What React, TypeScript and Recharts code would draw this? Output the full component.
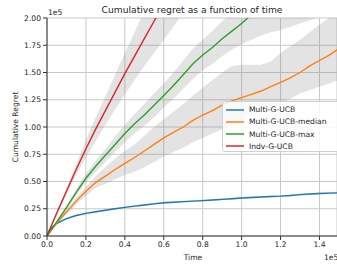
import React from 'react';
import { ComposedChart, Line, Area, XAxis, YAxis, CartesianGrid, Customized } from 'recharts';

const times = [0, 0.0125, 0.025, 0.05, 0.1, 0.15, 0.2, 0.25, 0.3, 0.35, 0.4, 0.45, 0.5, 0.55, 0.6, 0.65, 0.7, 0.75, 0.8, 0.85, 0.9, 0.95, 1.0, 1.05, 1.1, 1.15, 1.2, 1.25, 1.3, 1.35, 1.4, 1.45, 1.5];

const multiGUCB = [0, 0.055, 0.08, 0.115, 0.16, 0.188, 0.208, 0.222, 0.236, 0.25, 0.263, 0.274, 0.284, 0.295, 0.305, 0.31, 0.315, 0.32, 0.325, 0.33, 0.336, 0.342, 0.349, 0.353, 0.358, 0.362, 0.366, 0.372, 0.38, 0.385, 0.39, 0.393, 0.396];
const multiGUCBLow = [0, 0.05, 0.074, 0.108, 0.152, 0.18, 0.2, 0.214, 0.228, 0.242, 0.255, 0.265, 0.275, 0.286, 0.296, 0.301, 0.306, 0.311, 0.316, 0.321, 0.327, 0.333, 0.34, 0.344, 0.349, 0.353, 0.357, 0.363, 0.371, 0.376, 0.381, 0.384, 0.387];
const multiGUCBHigh = [0, 0.06, 0.086, 0.122, 0.168, 0.196, 0.216, 0.23, 0.244, 0.258, 0.271, 0.283, 0.293, 0.304, 0.314, 0.319, 0.324, 0.329, 0.334, 0.339, 0.345, 0.351, 0.358, 0.362, 0.367, 0.371, 0.375, 0.381, 0.389, 0.394, 0.399, 0.402, 0.405];

const median = [0, 0.03, 0.06, 0.12, 0.22, 0.32, 0.41, 0.49, 0.55, 0.61, 0.667, 0.72, 0.78, 0.84, 0.9, 0.95, 1.0, 1.06, 1.11, 1.15, 1.2, 1.24, 1.27, 1.3, 1.33, 1.37, 1.41, 1.45, 1.5, 1.56, 1.61, 1.66, 1.72];
const medianLow = [0, 0.026, 0.054, 0.11, 0.2, 0.29, 0.37, 0.44, 0.48, 0.52, 0.56, 0.59, 0.63, 0.68, 0.73, 0.77, 0.81, 0.86, 0.9, 0.94, 0.98, 1.02, 1.06, 1.1, 1.14, 1.18, 1.22, 1.26, 1.31, 1.34, 1.37, 1.4, 1.43];
const medianHigh = [0, 0.034, 0.066, 0.13, 0.24, 0.35, 0.45, 0.55, 0.63, 0.71, 0.78, 0.84, 0.92, 1.0, 1.07, 1.14, 1.21, 1.29, 1.36, 1.43, 1.5, 1.56, 1.57, 1.57, 1.57, 1.6, 1.68, 1.74, 1.8, 1.87, 1.94, 2.0, 2.06];

const maxSeries = [0, 0.033, 0.065, 0.13, 0.26, 0.4, 0.53, 0.64, 0.74, 0.84, 0.94, 1.03, 1.11, 1.2, 1.29, 1.38, 1.48, 1.58, 1.66, 1.73, 1.81, 1.88, 1.95, 2.03, 2.08, 2.14, 2.2, 2.26, 2.32, 2.38, 2.44, 2.5, 2.55];
const maxLow = [0, 0.03, 0.06, 0.12, 0.24, 0.37, 0.49, 0.59, 0.68, 0.77, 0.86, 0.94, 1.01, 1.09, 1.18, 1.26, 1.35, 1.44, 1.52, 1.58, 1.65, 1.71, 1.76, 1.8, 1.84, 1.87, 1.89, 1.92, 1.95, 1.98, 2.01, 2.05, 2.08];
const maxHigh = [0, 0.036, 0.07, 0.14, 0.28, 0.43, 0.57, 0.69, 0.8, 0.91, 1.02, 1.12, 1.21, 1.31, 1.4, 1.5, 1.61, 1.72, 1.8, 1.88, 1.97, 2.05, 2.14, 2.26, 2.32, 2.4, 2.5, 2.6, 2.7, 2.8, 2.9, 3.0, 3.1];

const indv = [0, 0.053, 0.105, 0.21, 0.41, 0.61, 0.8, 0.98, 1.15, 1.32, 1.49, 1.65, 1.81, 1.97, 2.13, 2.29, 2.45];
const indvHalf = [0, 0.003, 0.005, 0.01, 0.03, 0.05, 0.08, 0.11, 0.13, 0.16, 0.19, 0.22, 0.25, 0.29, 0.33, 0.37, 0.4];

const xTicks = [0, 0.2, 0.4, 0.6, 0.8, 1.0, 1.2, 1.4];
const yTicks = [0, 0.25, 0.5, 0.75, 1.0, 1.25, 1.5, 1.75, 2.0];

const seriesNames = ['Multi-G-UCB', 'Multi-G-UCB-median', 'Multi-G-UCB-max', 'Indv-G-UCB'];
const seriesColors = ['#1f77b4', '#ff7f0e', '#2ca02c', '#d62728'];

const data = times.map((t, i) => ({
  t,
  blue: multiGUCB[i],
  blueBand: [multiGUCBLow[i], multiGUCBHigh[i]],
  orange: median[i],
  orangeBand: [medianLow[i], medianHigh[i]],
  green: maxSeries[i],
  greenBand: [maxLow[i], maxHigh[i]],
  red: i < indv.length ? indv[i] : null,
  redBand: i < indv.length ? [indv[i] - indvHalf[i], indv[i] + indvHalf[i]] : null,
}));

const FONT = '"DejaVu Sans", sans-serif';
const TXT = '#262626';

const LegendBox = () => (
  <div
    style={{
      position: 'absolute',
      left: 222,
      top: 101,
      width: 130,
      height: 51,
      border: '1px solid #d0d0d0',
      borderRadius: 3,
      background: 'rgba(255,255,255,0.8)',
      boxSizing: 'border-box',
      fontFamily: FONT,
      fontSize: 7.6,
      color: TXT,
    }}
  >
    {seriesNames.map((n, i) => (
      <div key={n} style={{ position: 'absolute', left: 0, top: 1.5 + i * 12.3, height: 12, display: 'flex', alignItems: 'center', whiteSpace: 'nowrap' }}>
        <div style={{ width: 18, height: 2, marginLeft: 3, background: seriesColors[i], opacity: 0.75 }} />
        <span style={{ marginLeft: 5 }}>{n}</span>
      </div>
    ))}
  </div>
);

const Extras = () => (
  <g fontFamily={FONT} fill={TXT}>
    <text x={192} y={12.5} textAnchor="middle" fontSize={9.2}>Cumulative regret as a function of time</text>
    <text x={48} y={15} fontSize={7.6}>1e5</text>
    <text x={193} y={259.5} textAnchor="middle" fontSize={7.6}>Time</text>
    <text x={324} y={259.5} fontSize={7.6}>1e5</text>
    <text x={0} y={0} transform="translate(17.5,127) rotate(-90)" textAnchor="middle" fontSize={7.6}>Cumulative Regret</text>
  </g>
);

export default function App() {
  const bandFill = '#808080';
  const bandOpacity = 0.22;
  return (
    <div style={{ position: 'absolute', left: 0, top: 0, width: 337, height: 267, background: '#fff' }}>
      <ComposedChart width={337} height={267} data={data} margin={{ top: 18, right: 0, bottom: 0, left: 0 }}>
        <CartesianGrid stroke="#c8c8c8" strokeWidth={1} />
        <XAxis
          type="number"
          dataKey="t"
          domain={[0, 1.49]}
          ticks={xTicks}
          allowDataOverflow
          height={31}
          tickSize={4}
          tickMargin={2}
          tickFormatter={(v: number) => v.toFixed(1)}
          tick={{ fontSize: 7.6, fill: TXT, fontFamily: FONT }}
          stroke="#333"
        />
        <YAxis
          type="number"
          domain={[0, 2]}
          ticks={yTicks}
          allowDataOverflow
          width={47}
          tickSize={4}
          tickMargin={2}
          tickFormatter={(v: number) => v.toFixed(2)}
          tick={{ fontSize: 7.6, fill: TXT, fontFamily: FONT }}
          stroke="#333"
        />
        <Area dataKey="blueBand" stroke="none" fill={bandFill} fillOpacity={bandOpacity} isAnimationActive={false} legendType="none" />
        <Area dataKey="orangeBand" stroke="none" fill={bandFill} fillOpacity={bandOpacity} isAnimationActive={false} legendType="none" />
        <Area dataKey="greenBand" stroke="none" fill={bandFill} fillOpacity={bandOpacity} isAnimationActive={false} legendType="none" />
        <Area dataKey="redBand" stroke="none" fill={bandFill} fillOpacity={bandOpacity} isAnimationActive={false} legendType="none" />
        <Line dataKey="blue" name={seriesNames[0]} stroke={seriesColors[0]} strokeWidth={1.4} dot={false} isAnimationActive={false} />
        <Line dataKey="orange" name={seriesNames[1]} stroke={seriesColors[1]} strokeWidth={1.4} dot={false} isAnimationActive={false} />
        <Line dataKey="green" name={seriesNames[2]} stroke={seriesColors[2]} strokeWidth={1.4} dot={false} isAnimationActive={false} />
        <Line dataKey="red" name={seriesNames[3]} stroke={seriesColors[3]} strokeWidth={1.4} dot={false} isAnimationActive={false} />
        <Customized component={Extras} />
      </ComposedChart>
      <LegendBox />
    </div>
  );
}
